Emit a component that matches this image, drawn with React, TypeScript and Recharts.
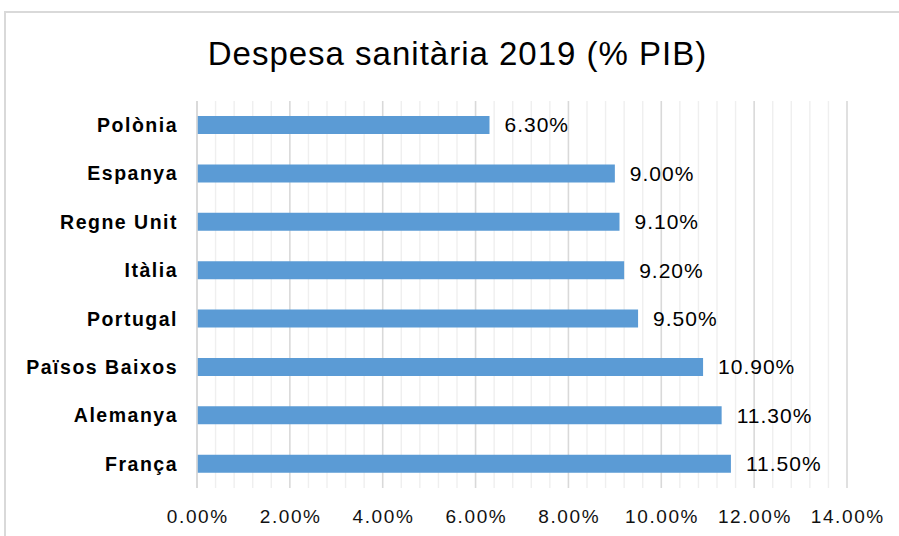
import React from 'react'
import { BarChart, Bar, XAxis, YAxis, CartesianGrid, LabelList } from 'recharts'

const countries = ['Polònia', 'Espanya', 'Regne Unit', 'Itàlia', 'Portugal', 'Països Baixos', 'Alemanya', 'França']
const spending = [6.3, 9.0, 9.1, 9.2, 9.5, 10.9, 11.3, 11.5]
const majorTicks = [0, 2, 4, 6, 8, 10, 12, 14]
const minorTicks = [
  0.4, 0.8, 1.2, 1.6, 2.4, 2.8, 3.2, 3.6, 4.4, 4.8, 5.2, 5.6, 6.4, 6.8, 7.2, 7.6,
  8.4, 8.8, 9.2, 9.6, 10.4, 10.8, 11.2, 11.6, 12.4, 12.8, 13.2, 13.6,
]

const data = countries.map((name, i) => ({ name, value: spending[i] }))
const allTicks = [...majorTicks, ...minorTicks].sort((a, b) => a - b)

const FONT = '"Liberation Sans", Arial, sans-serif'
const pct = (v: number) => `${Number(v).toFixed(2)}%`

const XTick = (props: any) => {
  const { x, y, payload } = props
  if (!majorTicks.includes(payload.value)) return null
  return (
    <text
      x={x + 0.8}
      y={y}
      dy="0.71em"
      textAnchor="middle"
      style={{ fontSize: '19px', fontFamily: FONT, fill: '#111', letterSpacing: '1.6px' }}
    >
      {pct(payload.value)}
    </text>
  )
}

const GridLine = (props: any) => {
  const { x1, y1, x2, y2, index } = props
  const major = majorTicks.includes(allTicks[index])
  return (
    <line
      key={`grid-${index}`}
      x1={x1}
      y1={y1}
      x2={x2}
      y2={y2}
      stroke={major ? '#d9d9d9' : '#efefef'}
      strokeWidth={major ? 1.6 : 1.4}
    />
  )
}

export default function App() {
  return (
    <div
      style={{
        position: 'absolute',
        left: 0,
        top: 0,
        width: 899,
        height: 536,
        overflow: 'hidden',
        background: '#fff',
        fontFamily: FONT,
      }}
    >
      <div
        style={{
          position: 'absolute',
          left: 4,
          top: 11,
          width: 1000,
          height: 1000,
          border: '2px solid #d9d9d9',
        }}
      />
      <div
        style={{
          position: 'absolute',
          left: 0,
          top: 37,
          width: 915,
          textAlign: 'center',
          fontSize: 33,
          lineHeight: '33px',
          letterSpacing: 1,
          color: '#000',
        }}
      >
        Despesa sanitària 2019 (% PIB)
      </div>
      <div style={{ position: 'absolute', left: 0, top: 0 }}>
        <BarChart
          width={899}
          height={536}
          data={data}
          layout="vertical"
          margin={{ top: 101, right: 52, bottom: 0, left: 0 }}
        >
          <CartesianGrid horizontal={false} vertical={GridLine} />
          <XAxis
            type="number"
            domain={[0, 14]}
            ticks={allTicks}
            axisLine={false}
            tickLine={false}
            tickSize={0}
            tickMargin={22}
            height={48}
            interval={0}
            tick={<XTick />}
          />
          <YAxis
            type="category"
            dataKey="name"
            width={197}
            axisLine={{ stroke: '#d9d9d9', strokeWidth: 1.6 }}
            tickLine={false}
            tickSize={0}
            tickMargin={19}
            interval={0}
            tick={{ fontSize: 19.5, fontWeight: 'bold', fill: '#000', fontFamily: FONT, letterSpacing: 1.5 }}
          />
          <Bar dataKey="value" fill="#5b9bd5" barSize={18} isAnimationActive={false}>
            <LabelList
              dataKey="value"
              position="right"
              offset={15}
              formatter={(v: any) => pct(v)}
              style={{ fontSize: 21, fill: '#000', fontFamily: FONT, letterSpacing: 1 }}
            />
          </Bar>
        </BarChart>
      </div>
    </div>
  )
}
